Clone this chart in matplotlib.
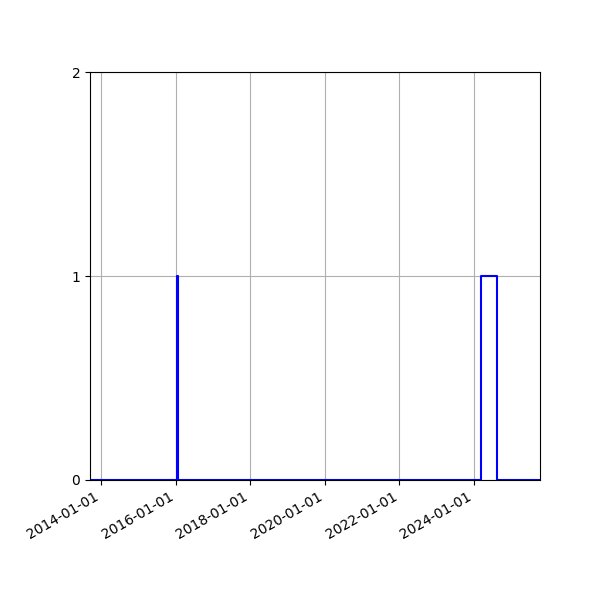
import numpy as np
import pandas as pd
import matplotlib
matplotlib.use('Agg')
import matplotlib.pyplot as plt
import matplotlib.dates as mdates

# step series: value holds from each date until the next one
dates = ['2013-09-15', '2016-01-14', '2016-01-21', '2024-03-07', '2024-08-10', '2025-10-08']
counts = [0, 1, 0, 1, 0, 0]

dates = pd.to_datetime(dates)

fig, ax = plt.subplots(figsize=(6, 6), dpi=100)
ax.step(dates, counts, where='post', c='b', lw=1.5)

ax.set_xlim(dates[0], dates[-1])
ax.set_ylim(0, 2)
ax.set_yticks([0, 1, 2])
ax.xaxis.set_major_locator(mdates.YearLocator(2))
ax.xaxis.set_major_formatter(mdates.DateFormatter('%Y-%m-%d'))
ax.grid(True)
fig.autofmt_xdate()
fig.subplots_adjust(left=0.15, right=0.9, top=0.88, bottom=0.2)
fig.savefig('out.png')
